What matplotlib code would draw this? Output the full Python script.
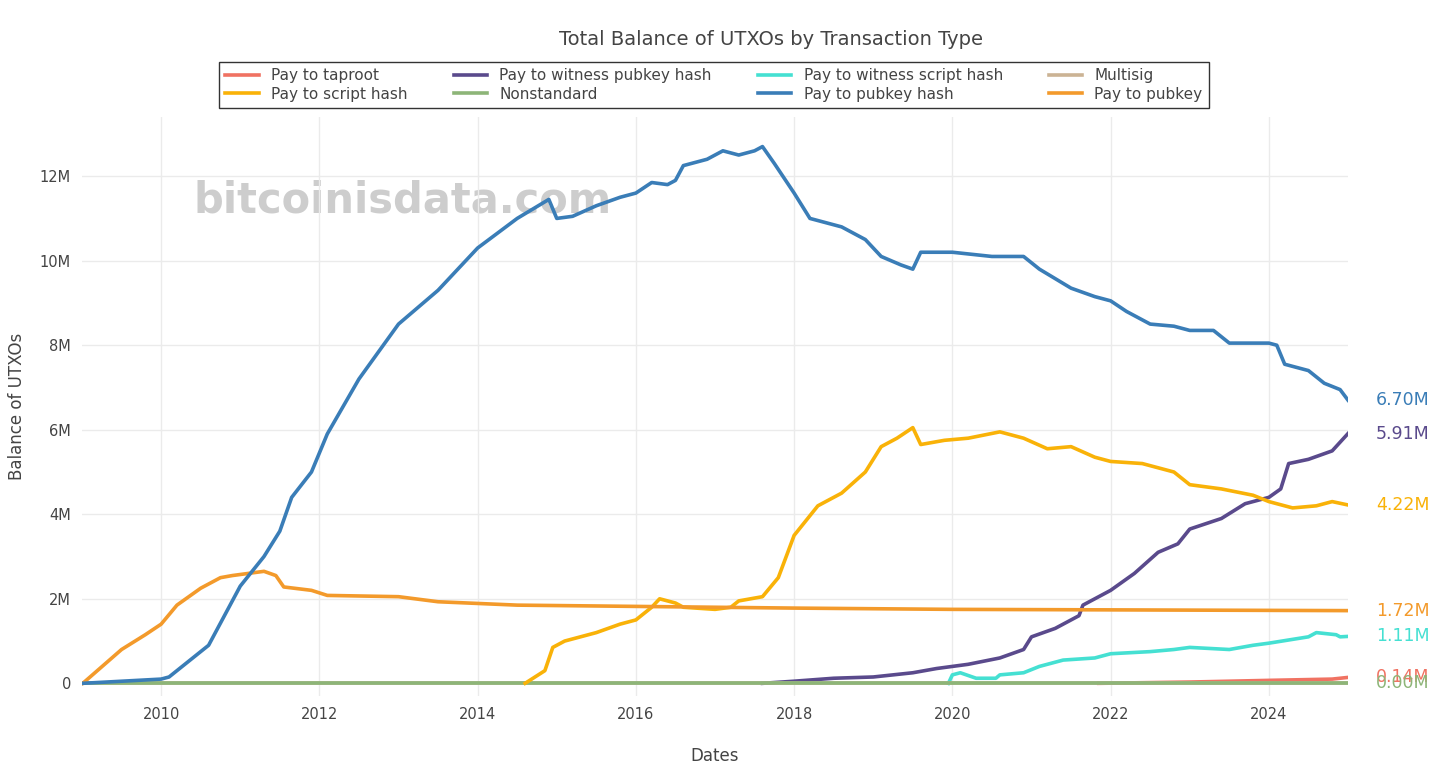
import numpy as np
import matplotlib.pyplot as plt

# (decimal year, balance in millions)
p2pkh_t = [2009.01, 2010.0, 2010.1, 2010.3, 2010.6, 2010.8, 2011.0, 2011.3, 2011.5, 2011.65, 2011.9, 2012.1,
           2012.5, 2013.0, 2013.5, 2014.0, 2014.5, 2014.9, 2015.0, 2015.2, 2015.5, 2015.8, 2016.0, 2016.2,
           2016.4, 2016.5, 2016.6, 2016.9, 2017.1, 2017.3, 2017.5, 2017.6, 2017.75, 2018.0, 2018.2, 2018.6,
           2018.9, 2019.1, 2019.35, 2019.5, 2019.6, 2020.0, 2020.5, 2020.9, 2021.1, 2021.5, 2021.8, 2022.0,
           2022.2, 2022.5, 2022.8, 2023.0, 2023.3, 2023.5, 2023.8, 2024.0, 2024.1, 2024.2, 2024.5, 2024.7,
           2024.9, 2025.0]
p2pkh_v = [0, 0.1, 0.15, 0.45, 0.9, 1.6, 2.3, 3.0, 3.6, 4.4, 5.0, 5.9,
           7.2, 8.5, 9.3, 10.3, 11.0, 11.45, 11.0, 11.05, 11.3, 11.5, 11.6, 11.85,
           11.8, 11.9, 12.25, 12.4, 12.6, 12.5, 12.6, 12.7, 12.3, 11.6, 11.0, 10.8,
           10.5, 10.1, 9.9, 9.8, 10.2, 10.2, 10.1, 10.1, 9.8, 9.35, 9.15, 9.05,
           8.8, 8.5, 8.45, 8.35, 8.35, 8.05, 8.05, 8.05, 8.0, 7.55, 7.4, 7.1,
           6.95, 6.70]

p2sh_t = [2014.6, 2014.85, 2014.95, 2015.1, 2015.5, 2015.8, 2016.0, 2016.2, 2016.3, 2016.5, 2016.6,
          2017.0, 2017.2, 2017.3, 2017.6, 2017.8, 2018.0, 2018.3, 2018.6, 2018.9, 2019.1, 2019.3, 2019.5,
          2019.6, 2019.9, 2020.2, 2020.6, 2020.9, 2021.2, 2021.5, 2021.8, 2022.0, 2022.4, 2022.8, 2023.0,
          2023.4, 2023.8, 2024.0, 2024.3, 2024.6, 2024.8, 2025.0]
p2sh_v = [0, 0.3, 0.85, 1.0, 1.2, 1.4, 1.5, 1.8, 2.0, 1.9, 1.8,
          1.75, 1.8, 1.95, 2.05, 2.5, 3.5, 4.2, 4.5, 5.0, 5.6, 5.8, 6.05,
          5.65, 5.75, 5.8, 5.95, 5.8, 5.55, 5.6, 5.35, 5.25, 5.2, 5.0, 4.7,
          4.6, 4.45, 4.3, 4.15, 4.2, 4.3, 4.22]

p2wpkh_t = [2017.6, 2018.0, 2018.5, 2019.0, 2019.5, 2019.8, 2020.2, 2020.6, 2020.9, 2021.0, 2021.3, 2021.6,
            2021.65, 2022.0, 2022.3, 2022.6, 2022.85, 2023.0, 2023.4, 2023.7, 2024.0, 2024.15, 2024.25,
            2024.5, 2024.8, 2025.0]
p2wpkh_v = [0, 0.05, 0.12, 0.15, 0.25, 0.35, 0.45, 0.6, 0.8, 1.1, 1.3, 1.6,
            1.85, 2.2, 2.6, 3.1, 3.3, 3.65, 3.9, 4.25, 4.4, 4.6, 5.2,
            5.3, 5.5, 5.91]

p2wsh_t = [2019.95, 2020.0, 2020.1, 2020.3, 2020.55, 2020.6, 2020.9, 2021.1, 2021.4, 2021.8, 2022.0, 2022.5,
           2022.8, 2023.0, 2023.5, 2023.8, 2024.0, 2024.5, 2024.6, 2024.85, 2024.9, 2025.0]
p2wsh_v = [0, 0.2, 0.25, 0.12, 0.12, 0.2, 0.25, 0.4, 0.55, 0.6, 0.7, 0.75,
           0.8, 0.85, 0.8, 0.9, 0.95, 1.1, 1.2, 1.15, 1.1, 1.11]

p2pk_t = [2009.01, 2009.5, 2009.8, 2010.0, 2010.2, 2010.5, 2010.75, 2010.9, 2011.3, 2011.45, 2011.55, 2011.9,
          2012.1, 2013.0, 2013.5, 2014.5, 2017.0, 2018.0, 2020.0, 2025.0]
p2pk_v = [0, 0.8, 1.15, 1.4, 1.85, 2.25, 2.5, 2.55, 2.65, 2.55, 2.28, 2.2,
          2.08, 2.05, 1.93, 1.85, 1.8, 1.78, 1.75, 1.72]

taproot_t = [2021.85, 2023.0, 2024.0, 2024.8, 2025.0]
taproot_v = [0, 0.03, 0.07, 0.1, 0.14]

nonstd_t = [2009.01, 2025.0]
nonstd_v = [0.0, 0.0]

multisig_t = [2009.01, 2025.0]
multisig_v = [0.005, 0.005]

series = [
    ("Pay to taproot", taproot_t, taproot_v, "#f07262", "0.14M"),
    ("Pay to script hash", p2sh_t, p2sh_v, "#f9b208", "4.22M"),
    ("Pay to witness pubkey hash", p2wpkh_t, p2wpkh_v, "#5a4a8c", "5.91M"),
    ("Nonstandard", nonstd_t, nonstd_v, "#8db578", "0.00M"),
    ("Pay to witness script hash", p2wsh_t, p2wsh_v, "#45e0d2", "1.11M"),
    ("Pay to pubkey hash", p2pkh_t, p2pkh_v, "#3a7db7", "6.70M"),
    ("Multisig", multisig_t, multisig_v, "#cbb394", None),
    ("Pay to pubkey", p2pk_t, p2pk_v, "#f39a2b", "1.72M"),
]
z = {"Pay to pubkey hash": 5, "Pay to pubkey": 4, "Pay to script hash": 4, "Nonstandard": 3.5}

fig = plt.figure(figsize=(14.49, 7.83), dpi=100)
ax = fig.add_axes([82 / 1449, 1 - 696 / 783, 1266 / 1449, (696 - 117) / 783])

for name, t, v, c, lab in series:
    ax.plot(t, np.array(v) * 1e6, color=c, lw=2.6, label=name, zorder=z.get(name, 3))
    if lab:
        ax.text(1.022, v[-1] * 1e6, lab, transform=ax.get_yaxis_transform(), color=c,
                fontsize=12.5, va="center", ha="left")

ax.set_xlim(2009.0, 2025.0)
ax.set_ylim(-0.3e6, 13.4e6)
ax.set_xticks(range(2010, 2025, 2))
yt = [0, 2e6, 4e6, 6e6, 8e6, 10e6, 12e6]
ax.set_yticks(yt)
ax.set_yticklabels(["0", "2M", "4M", "6M", "8M", "10M", "12M"])
ax.grid(True, color="#ebebeb", lw=1)
for s in ax.spines.values():
    s.set_visible(False)
ax.tick_params(length=0, colors="#444444", labelsize=10.5, pad=8)
ax.set_xlabel("Dates", fontsize=12, color="#444444", labelpad=18)
ax.set_ylabel("Balance of UTXOs", fontsize=12, color="#444444", labelpad=10)

ax.text(0.088, 0.835, "bitcoinisdata.com", transform=ax.transAxes, fontsize=30,
        fontweight="bold", color="#c8c8c8", alpha=0.9, zorder=1)

fig.text(0.532, 0.943, "Total Balance of UTXOs by Transaction Type", ha="center",
         fontsize=14, color="#444444")
leg = fig.legend(loc="center", bbox_to_anchor=(714 / 1449, 1 - 85 / 783), ncol=4,
                 frameon=True, fancybox=False, fontsize=11, handlelength=2.2,
                 columnspacing=3.0, labelspacing=0.2, borderpad=0.4)
leg.get_frame().set_edgecolor("black")
leg.get_frame().set_linewidth(1)
for tx in leg.get_texts():
    tx.set_color("#444444")

fig.savefig("out.png", dpi=100)
